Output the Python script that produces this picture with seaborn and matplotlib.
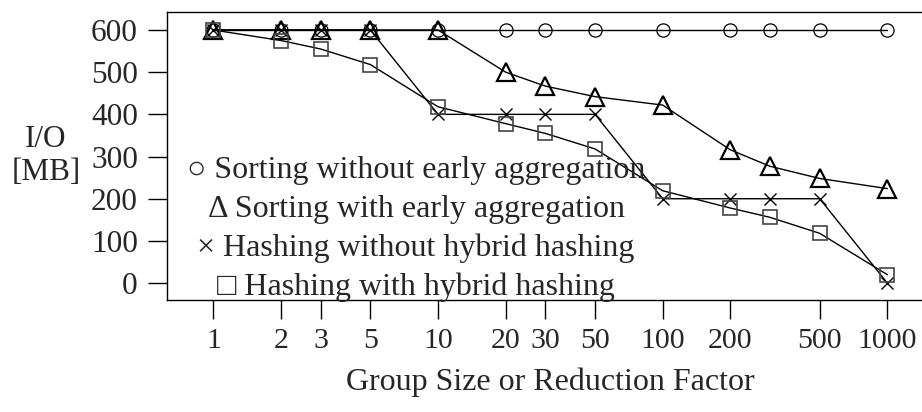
import matplotlib
matplotlib.use("Agg")
import matplotlib.pyplot as plt
import seaborn as sns
import pandas as pd

# ---- data ----
group_size = [1, 2, 3, 5, 10, 20, 30, 50, 100, 200, 300, 500, 1000]
sort_no_early = [600, 600, 600, 600, 600, 600, 600, 600, 600, 600, 600, 600, 600]
sort_early = [600, 600, 600, 600, 600, 500, 467, 442, 422, 316, 277, 248, 224]
hash_no_hybrid = [600, 600, 600, 600, 400, 400, 400, 400, 200, 200, 200, 200, 0]
hash_hybrid = [600, 575, 555, 518, 418, 378, 355, 318, 219, 178, 156, 118, 20]
series_names = ["Sorting without early aggregation", "Sorting with early aggregation",
                "Hashing without hybrid hashing", "Hashing with hybrid hashing"]
legend_symbols = ["\u25cb", "\u0394", "\u00d7", "\u25a1"]
x_ticks = [1, 2, 3, 5, 10, 20, 30, 50, 100, 200, 500, 1000]
y_ticks = [0, 100, 200, 300, 400, 500, 600]

sns.set_style("ticks")
plt.rcParams["font.family"] = ["Liberation Serif", "DejaVu Serif"]

fig = plt.figure(figsize=(9.22, 4.12), dpi=100)
ax = fig.add_axes([167 / 922, 1 - 300 / 412, (922 - 167) / 922, (300 - 12) / 412])

values = [sort_no_early, sort_early, hash_no_hybrid, hash_hybrid]
styles = [
    dict(marker="o", markersize=9.5, markerfacecolor="none", markeredgecolor="black", markeredgewidth=0.9),
    dict(marker="^", markersize=12.5, markerfacecolor="none", markeredgecolor="black", markeredgewidth=1.6),
    dict(marker="x", markersize=9, markeredgecolor="black", markeredgewidth=1.0),
    dict(marker="s", markersize=10, markerfacecolor="none", markeredgecolor="#444444", markeredgewidth=1.2),
]
for name, vals, st in zip(series_names, values, styles):
    df = pd.DataFrame({"x": group_size, "y": vals})
    sns.lineplot(data=df, x="x", y="y", ax=ax, color="black", linewidth=1.0, **st)

ax.set_xscale("log")
ax.set_xlim(0.622, 1426)
ax.set_ylim(-40, 642.6)
ax.set_xticks(x_ticks)
ax.set_xticklabels([str(t) for t in x_ticks])
ax.xaxis.set_minor_locator(matplotlib.ticker.NullLocator())
ax.set_yticks(y_ticks)
ax.set_yticklabels([str(t) for t in y_ticks])
ax.tick_params(axis="both", direction="out", length=14, width=1.0, color="black")
ax.tick_params(axis="x", labelsize=21.5, pad=6)
ax.tick_params(axis="y", labelsize=22.5, pad=7)
for s in ["left", "top", "bottom"]:
    ax.spines[s].set_color("black")
    ax.spines[s].set_linewidth(1.0)
ax.spines["right"].set_visible(False)

ax.set_xlabel("")
ax.set_ylabel("")
fig.text(550 / 922, 1 - 382 / 412, "Group Size or Reduction Factor", ha="center", va="center", fontsize=23)
fig.text(46 / 922, 1 - 156 / 412, "I/O\n[MB]", ha="center", va="center", fontsize=22.5, linespacing=1.2)

legend_text = "\n".join(f"{sym} {name}" for sym, name in zip(legend_symbols, series_names))
ax.text(416 / 922, 1 - 229 / 412, legend_text, transform=fig.transFigure, ha="center", va="center",
        multialignment="center", fontsize=23, linespacing=1.42)

fig.savefig("out.png", dpi=100)
